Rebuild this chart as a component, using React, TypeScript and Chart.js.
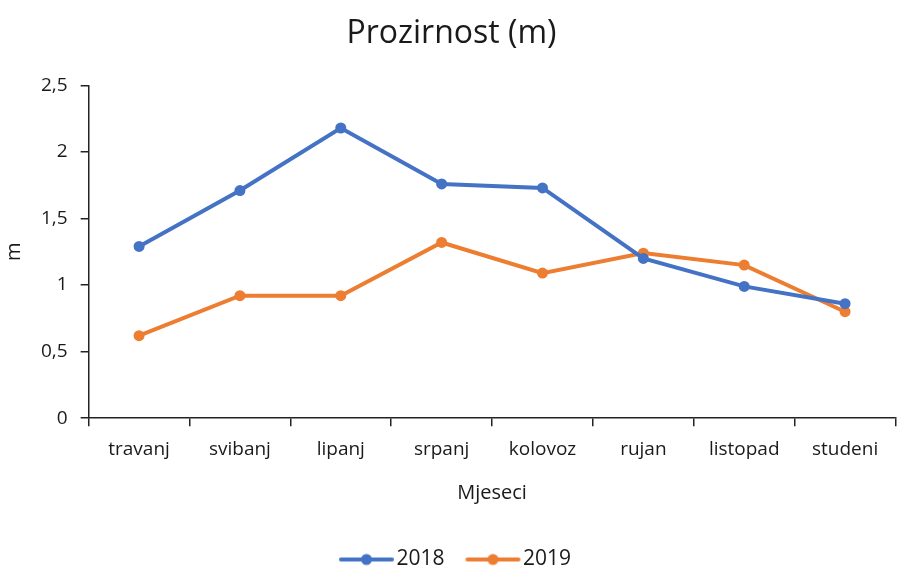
import React, { useEffect, useRef } from "react";
import { Chart, registerables } from "chart.js";

Chart.register(...registerables);

const categories = ["travanj", "svibanj", "lipanj", "srpanj", "kolovoz", "rujan", "listopad", "studeni"];
const series2018 = [1.29, 1.71, 2.18, 1.76, 1.73, 1.2, 0.99, 0.86];
const series2019 = [0.62, 0.92, 0.92, 1.32, 1.09, 1.24, 1.15, 0.8];
const yTicks = [0, 0.5, 1, 1.5, 2, 2.5];

const BLUE = "#4472C4";
const ORANGE = "#ED7D31";
const FONT = "'Open Sans', sans-serif";
const TEXT = "#1a1a1a";

function legendIcon(color: string): HTMLCanvasElement {
  const c = document.createElement("canvas");
  c.width = 72;
  c.height = 14;
  const ctx = c.getContext("2d")!;
  ctx.strokeStyle = color;
  ctx.lineWidth = 4;
  ctx.lineCap = "round";
  ctx.beginPath();
  ctx.moveTo(18, 7);
  ctx.lineTo(69, 7);
  ctx.stroke();
  ctx.fillStyle = color;
  ctx.beginPath();
  ctx.arc(43.5, 7, 5.5, 0, Math.PI * 2);
  ctx.fill();
  return c;
}

export default function App() {
  const ref = useRef<HTMLCanvasElement | null>(null);
  useEffect(() => {
    document.body.style.margin = "0";
    const icons = [legendIcon(BLUE), legendIcon(ORANGE)];
    const chart = new Chart(ref.current!, {
      type: "line",
      data: {
        labels: categories,
        datasets: [
          {
            label: "2018",
            data: series2018,
            borderColor: BLUE,
            backgroundColor: BLUE,
            borderWidth: 4,
            pointRadius: 5.5,
            pointHoverRadius: 5.5,
            pointBorderWidth: 0,
            pointStyle: "circle",
          },
          {
            label: "2019",
            data: series2019,
            borderColor: ORANGE,
            backgroundColor: ORANGE,
            borderWidth: 4,
            pointRadius: 5.5,
            pointHoverRadius: 5.5,
            pointBorderWidth: 0,
            pointStyle: "circle",
          },
        ],
      },
      options: {
        animation: false,
        responsive: false,
        layout: { padding: { left: 2, right: 0, top: 10, bottom: -10 } },
        plugins: {
          title: {
            display: true,
            text: "Prozirnost (m)",
            color: TEXT,
            font: { family: FONT, size: 32, weight: "normal" },
            padding: { top: 5, bottom: 32 },
          },
          legend: {
            position: "bottom",
            labels: {
              usePointStyle: true,
              pointStyleWidth: 54,
              color: TEXT,
              font: { family: FONT, size: 21 },
              padding: 14,
              generateLabels: (chart: any) =>
                chart.data.datasets.map((d: any, i: number) => ({
                  text: d.label,
                  pointStyle: icons[i],
                  fillStyle: d.borderColor,
                  strokeStyle: d.borderColor,
                  lineWidth: 0,
                  hidden: false,
                  datasetIndex: i,
                  fontColor: TEXT,
                })),
            },
          },
          tooltip: { enabled: false },
        },
        scales: {
          x: {
            offset: true,
            grid: {
              offset: true,
              drawOnChartArea: false,
              drawTicks: true,
              tickLength: 8,
              color: "#222",
              lineWidth: 1.5,
            },
            border: { display: true, color: "#222", width: 1.5 },
            ticks: { color: TEXT, font: { family: FONT, size: 19 }, padding: 12, maxRotation: 0 },
            title: {
              display: true,
              text: "Mjeseci",
              color: TEXT,
              font: { family: FONT, size: 20 },
              padding: { top: 8, bottom: 30 },
            },
          },
          y: {
            min: 0,
            max: 2.5,
            afterBuildTicks: (axis: any) => {
              axis.ticks = yTicks.map((v) => ({ value: v }));
            },
            grid: {
              drawOnChartArea: false,
              drawTicks: true,
              tickLength: 8,
              color: "#222",
              lineWidth: 1.5,
            },
            border: { display: true, color: "#222", width: 1.5 },
            ticks: {
              color: TEXT,
              font: { family: FONT, size: 19 },
              padding: 13,
              callback: (v: any) => String(v).replace(".", ","),
            },
            title: {
              display: true,
              text: "m",
              color: TEXT,
              font: { family: FONT, size: 20 },
              padding: { top: 0, bottom: 2 },
            },
          },
        },
      },
    });
    return () => chart.destroy();
  }, []);
  return <canvas ref={ref} width={901} height={570} style={{ display: "block" }} />;
}
